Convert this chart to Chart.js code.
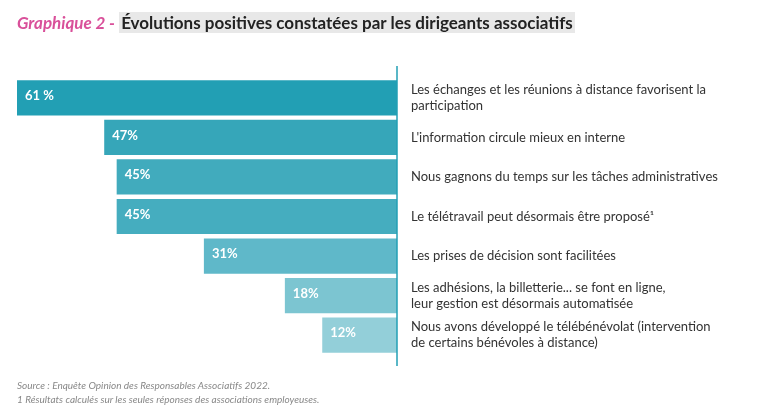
<!DOCTYPE html>
<html><head><meta charset="utf-8">
<script src="https://cdn.jsdelivr.net/npm/chart.js@4"></script>
<style>
body{margin:0;background:#fff;font-family:Lato,"Noto Sans",sans-serif;}
#wrap{position:relative;width:780px;height:415px;}
canvas{position:absolute;left:0;top:0;}
#title{position:absolute;left:17px;top:12px;font-size:17px;font-weight:bold;color:#222;}
#title i{color:#d9509a;font-weight:bold;}
#title span{background:#e8e8e8;padding:0 2px;}
#foot{position:absolute;left:17px;top:378px;font-size:10px;font-style:italic;color:#888;line-height:14px;}
</style></head><body>
<div id="wrap">
<canvas id="c" width="780" height="415"></canvas>
<div id="title"><i>Graphique 2 -</i> <span>Évolutions positives constatées par les dirigeants associatifs</span></div>
<div id="foot">Source : Enquête Opinion des Responsables Associatifs 2022.<br>1 Résultats calculés sur les seules réponses des associations employeuses.</div>
</div>
<script>
const items = [
  { label: ["Les échanges et les réunions à distance favorisent la", "participation"], value: 61, text: "61 %", color: "#229fb4" },
  { label: ["L'information circule mieux en interne"], value: 47, text: "47%", color: "#36a6b9" },
  { label: ["Nous gagnons du temps sur les tâches administratives"], value: 45, text: "45%", color: "#41abbd" },
  { label: ["Le télétravail peut désormais être proposé¹"], value: 45, text: "45%", color: "#45adbf" },
  { label: ["Les prises de décision sont facilitées"], value: 31, text: "31%", color: "#5fb8c9" },
  { label: ["Les adhésions, la billetterie... se font en ligne,", "leur gestion est désormais automatisée"], value: 18, text: "18%", color: "#7cc5d1" },
  { label: ["Nous avons développé le télébénévolat (intervention", "de certains bénévoles à distance)"], value: 12, text: "12%", color: "#93cfd9" }
];

const decor = {
  id: "decor",
  afterDatasetsDraw(chart) {
    const { ctx, chartArea, scales } = chart;
    const x0 = chartArea.right;
    ctx.save();
    ctx.strokeStyle = "#229fb4";
    ctx.lineWidth = 1.5;
    ctx.beginPath();
    ctx.moveTo(x0, 66);
    ctx.lineTo(x0, 366);
    ctx.stroke();
    ctx.textBaseline = "middle";
    items.forEach((it, i) => {
      const y = scales.y.getPixelForValue(i);
      const xl = scales.x.getPixelForValue(it.value);
      ctx.fillStyle = "#fff";
      ctx.font = "bold 13px Lato, 'Noto Sans', sans-serif";
      ctx.fillText(it.text, xl + 8, y - 2);
      ctx.fillStyle = "#333";
      ctx.font = "13px Lato, 'Noto Sans', sans-serif";
      const n = it.label.length;
      it.label.forEach((line, k) => {
        ctx.fillText(line, x0 + 14, y + (k - (n - 1) / 2) * 16);
      });
    });
    ctx.restore();
  }
};

new Chart(document.getElementById("c"), {
  type: "bar",
  data: {
    labels: items.map((it) => it.label.join(" ")),
    datasets: [{
      data: items.map((it) => it.value),
      backgroundColor: items.map((it) => it.color),
      barPercentage: 0.89,
      categoryPercentage: 1
    }]
  },
  options: {
    indexAxis: "y",
    responsive: false,
    animation: false,
    layout: { padding: { left: 17, right: 383, top: 78, bottom: 60 } },
    scales: {
      x: { reverse: true, min: 0, max: 61, display: false },
      y: { display: false }
    },
    plugins: { legend: { display: false }, tooltip: { enabled: false } }
  },
  plugins: [decor]
});
</script>
</body></html>
